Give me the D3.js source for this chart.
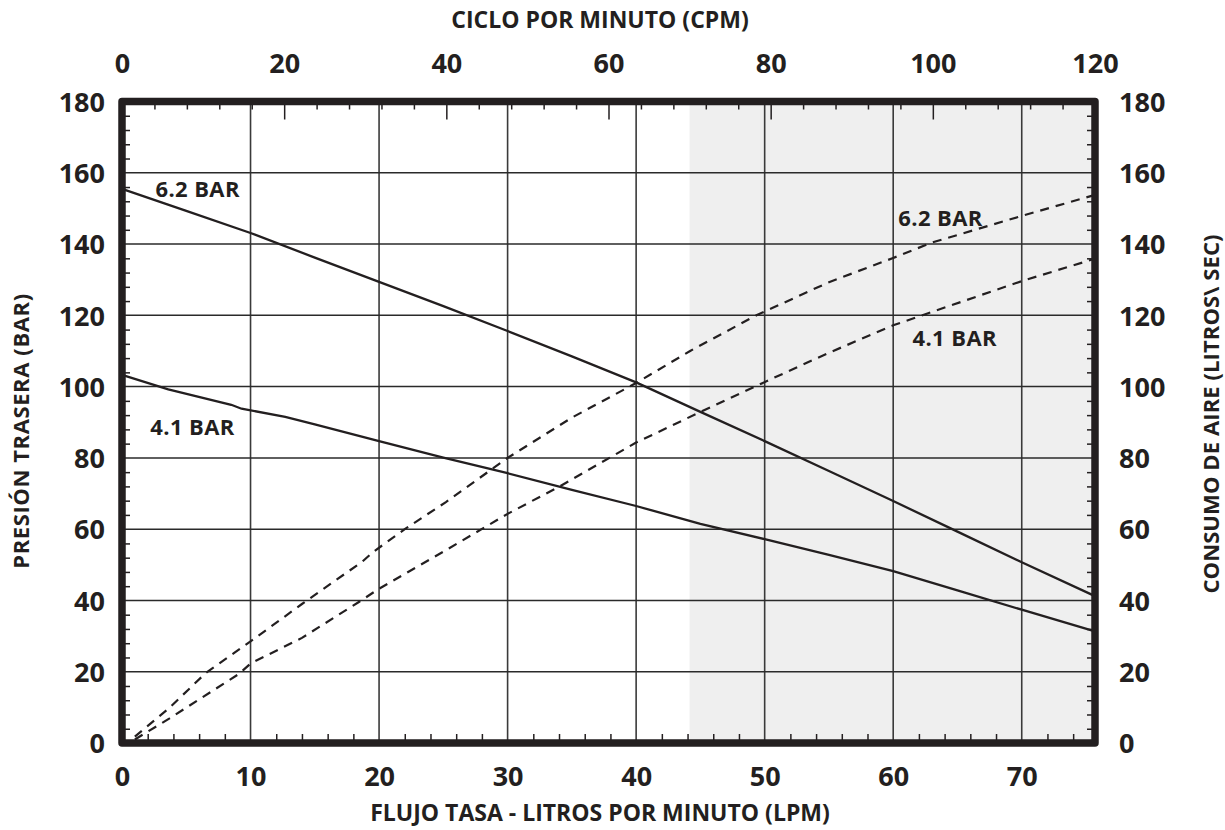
<!DOCTYPE html>
<html>
<head>
<meta charset="utf-8">
<script src="https://cdn.jsdelivr.net/npm/d3@7"></script>
<style>
  body { margin: 0; background: #fff; }
  svg text { font-family: "Open Sans", sans-serif; font-weight: 700; fill: #231f20; }
</style>
</head>
<body>
<svg id="chart" width="1225" height="830"></svg>
<script>
// flow (LPM) vs back pressure (bar), solid lines
let pressLpm62 = [0, 5, 10, 15, 20, 25, 30, 35, 40, 45, 50, 55, 60, 65, 70, 75.7];
let pressure62 = [155.5, 149.3, 143.1, 136.2, 129.4, 122.6, 115.6, 108.5, 101.2, 92.9, 84.7, 76.3, 67.9, 59.3, 50.7, 41.2];
let pressLpm41 = [0, 3.6, 8.5, 9.3, 12.7, 15, 20, 25, 30, 35, 40, 45, 50, 55, 60, 65, 70, 75.7];
let pressure41 = [103.3, 99.2, 94.9, 93.8, 91.5, 89.4, 84.7, 80.1, 75.7, 71.0, 66.5, 61.5, 57.2, 52.8, 48.2, 42.8, 37.4, 31.3];

// flow (LPM) vs air consumption, dashed lines
let airLpm62 = [1, 3.7, 6.5, 10, 14, 18.7, 19.5, 22, 25.2, 30, 35, 40, 44.2, 49.4, 55, 60, 63, 70, 75.7];
let air62 = [1.8, 9.9, 19.6, 28.5, 39.0, 50.9, 53.5, 60.0, 67.6, 80.0, 91.3, 101.0, 110.0, 120.1, 129.3, 136.1, 140.4, 147.9, 153.8];
let airLpm41 = [1, 3.7, 9.1, 10, 14, 18.4, 20, 25.2, 30, 34, 40, 45, 50.5, 55, 60, 62, 70, 75.7];
let air41 = [1.0, 6.9, 19.4, 22.3, 29.5, 39.5, 43.3, 54.1, 64.3, 71.9, 84.3, 92.9, 102.1, 109.5, 117.2, 119.7, 129.6, 135.9];

let lpmTicks = [0, 10, 20, 30, 40, 50, 60, 70];
let cpmTicks = [0, 20, 40, 60, 80, 100, 120];
let barTicks = [0, 20, 40, 60, 80, 100, 120, 140, 160, 180];
let shadeFromCpm = 70;

let labels = [
  {text: '6.2 BAR', lpm: 2.6, val: 153.3},
  {text: '4.1 BAR', lpm: 2.2, val: 86.4},
  {text: '6.2 BAR', lpm: 60.4, val: 145.1},
  {text: '4.1 BAR', lpm: 61.5, val: 111.4}
];

let svg = d3.select('#chart');
let ink = '#231f20';
let pLeft = 122, pRight = 1095, pTop = 101.5, pBottom = 743;

let x = d3.scaleLinear().domain([0, 75.7]).range([pLeft, pRight]);
let xTop = d3.scaleLinear().domain([0, 120]).range([pLeft, pRight]);
let y = d3.scaleLinear().domain([0, 180]).range([pBottom, pTop]);

// shaded zone
svg.append('rect')
  .attr('x', xTop(shadeFromCpm))
  .attr('y', pTop)
  .attr('width', pRight - xTop(shadeFromCpm))
  .attr('height', pBottom - pTop)
  .attr('fill', '#efefef');

// grid
svg.append('g').selectAll('line')
  .data(lpmTicks.filter(d => d > 0))
  .join('line')
  .attr('x1', d => x(d)).attr('x2', d => x(d))
  .attr('y1', pTop).attr('y2', pBottom)
  .attr('stroke', '#3a3a3a').attr('stroke-width', 1.6);
svg.append('g').selectAll('line')
  .data(barTicks.filter(d => d > 0 && d < 180))
  .join('line')
  .attr('x1', pLeft).attr('x2', pRight)
  .attr('y1', d => y(d)).attr('y2', d => y(d))
  .attr('stroke', '#2a2a2a').attr('stroke-width', 1.5);

// minor ticks
function minor(axis, tr) {
  let g = svg.append('g').attr('transform', tr).call(axis);
  g.select('.domain').remove();
  g.selectAll('line').attr('stroke', ink).attr('stroke-width', 1.5);
}
let barMinor = d3.range(4, 180, 4).filter(d => d % 20 !== 0);
let lpmMinor = d3.range(2, 76, 2).filter(d => d % 10 !== 0);
let cpmMinor = d3.range(4, 120, 4).filter(d => d % 20 !== 0);
minor(d3.axisRight(y).tickValues(barMinor).tickSize(8).tickFormat(''), `translate(${pLeft},0)`);
minor(d3.axisLeft(y).tickValues(barMinor).tickSize(8).tickFormat(''), `translate(${pRight},0)`);
minor(d3.axisTop(x).tickValues(lpmMinor).tickSize(9).tickFormat(''), `translate(0,${pBottom})`);
minor(d3.axisBottom(xTop).tickValues(cpmMinor).tickSize(8).tickFormat(''), `translate(0,${pTop})`);
minor(d3.axisBottom(xTop).tickValues([20, 40, 60, 80, 100]).tickSize(18).tickFormat(''), `translate(0,${pTop})`);

// curves
let line = d3.line().x(d => x(d[0])).y(d => y(d[1]));
let series = [
  {lpm: pressLpm62, val: pressure62, dash: null},
  {lpm: pressLpm41, val: pressure41, dash: null},
  {lpm: airLpm62, val: air62, dash: '9,7'},
  {lpm: airLpm41, val: air41, dash: '9,7'}
];
for (let s of series) {
  svg.append('path')
    .datum(d3.zip(s.lpm, s.val))
    .attr('d', line)
    .attr('fill', 'none')
    .attr('stroke', ink)
    .attr('stroke-width', s.dash ? 2.2 : 2.3)
    .attr('stroke-dasharray', s.dash);
}

// frame
svg.append('rect')
  .attr('x', pLeft).attr('y', pTop)
  .attr('width', pRight - pLeft).attr('height', pBottom - pTop)
  .attr('fill', 'none')
  .attr('stroke', ink)
  .attr('stroke-width', 7.5)
  .attr('stroke-linejoin', 'round');

// tick labels
function labelAxis(axis, tr, fix) {
  let g = svg.append('g').attr('transform', tr).call(axis);
  g.attr('font-family', null).attr('font-size', null);
  g.select('.domain').remove();
  g.selectAll('line').remove();
  g.selectAll('text')
    .attr('font-size', 27)
    .attr('fill', ink);
  fix(g.selectAll('text'));
}
labelAxis(d3.axisBottom(x).tickValues(lpmTicks).tickSize(0), `translate(0,${pBottom})`,
  t => t.attr('y', 43).attr('dy', 0));
labelAxis(d3.axisTop(xTop).tickValues(cpmTicks).tickSize(0), `translate(0,${pTop})`,
  t => t.attr('y', -29).attr('dy', 0));
labelAxis(d3.axisLeft(y).tickValues(barTicks).tickSize(0).tickPadding(17), `translate(${pLeft},0)`,
  t => t.attr('dy', '0.36em'));
labelAxis(d3.axisRight(y).tickValues(barTicks).tickSize(0).tickPadding(24), `translate(${pRight},0)`,
  t => t.attr('dy', '0.36em'));

// curve labels
svg.append('g').selectAll('text')
  .data(labels)
  .join('text')
  .attr('x', d => x(d.lpm))
  .attr('y', d => y(d.val))
  .attr('font-size', 22)
  .attr('letter-spacing', 0.4)
  .text(d => d.text);

// axis titles
svg.append('text')
  .attr('x', 600).attr('y', 28)
  .attr('text-anchor', 'middle')
  .attr('font-size', 23)
  .text('CICLO POR MINUTO (CPM)');
svg.append('text')
  .attr('x', 600).attr('y', 821)
  .attr('text-anchor', 'middle')
  .attr('font-size', 23)
  .text('FLUJO TASA - LITROS POR MINUTO (LPM)');
svg.append('text')
  .attr('transform', 'translate(29,431) rotate(-90)')
  .attr('text-anchor', 'middle')
  .attr('font-size', 22)
  .attr('letter-spacing', 0.6)
  .text('PRESIÓN TRASERA (BAR)');
svg.append('text')
  .attr('transform', 'translate(1219,414) rotate(-90)')
  .attr('text-anchor', 'middle')
  .attr('font-size', 22)
  .attr('letter-spacing', 0.1)
  .text('CONSUMO DE AIRE (LITROS\\ SEC)');
</script>
</body>
</html>
